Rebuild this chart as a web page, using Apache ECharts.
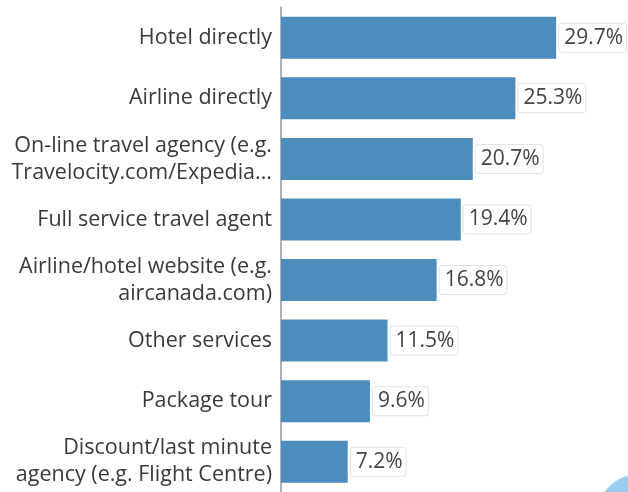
<!DOCTYPE html>
<html lang="en" style="height: 100%">
<head>
  <meta charset="utf-8">
</head>
<body style="height: 100%; margin: 0">
  <div id="container" style="width: 628px; height: 492px"></div>
  <script type="text/javascript" src="https://cdn.jsdelivr.net/npm/echarts@6/dist/echarts.min.js"></script>
  <script type="text/javascript">
    var categories = [
      'Hotel directly',
      'Airline directly',
      'On-line travel agency (e.g.\nTravelocity.com/Expedia...',
      'Full service travel agent',
      'Airline/hotel website (e.g.\naircanada.com)',
      'Other services',
      'Package tour',
      'Discount/last minute\nagency (e.g. Flight Centre)'
    ];
    var shares = [29.7, 25.3, 20.7, 19.4, 16.8, 11.5, 9.6, 7.2];

    var myChart = echarts.init(document.getElementById('container'), null, { renderer: 'canvas' });

    var option = {
      animation: false,
      grid: { left: 281, right: 32, top: 7.5, bottom: -3.5, containLabel: false },
      xAxis: {
        type: 'value',
        min: 0,
        max: 34,
        show: false
      },
      yAxis: {
        type: 'category',
        data: categories,
        inverse: true,
        axisLine: { show: true, lineStyle: { color: '#b0b0b0', width: 2 } },
        axisTick: { show: false },
        axisLabel: {
          fontFamily: 'Open Sans',
          fontSize: 21.5,
          lineHeight: 27,
          color: '#3a3a3a',
          margin: 9,
          align: 'right'
        }
      },
      series: [{
        type: 'bar',
        data: shares,
        barWidth: 42,
        itemStyle: { color: '#4d8dbd' },
        label: {
          show: true,
          position: 'right',
          distance: 3,
          formatter: '{c}%',
          fontFamily: 'Open Sans',
          fontSize: 21,
          color: '#444',
          backgroundColor: '#fff',
          borderColor: '#e2e2e2',
          borderWidth: 1,
          borderRadius: 3,
          padding: [6, 3, 1, 5]
        }
      }],
      graphic: [{
        type: 'circle',
        shape: { cx: 640, cy: 518, r: 44 },
        style: { fill: '#9bcdf0' }
      }]
    };

    myChart.setOption(option);
    window.addEventListener('resize', myChart.resize);
  </script>
</body>
</html>
